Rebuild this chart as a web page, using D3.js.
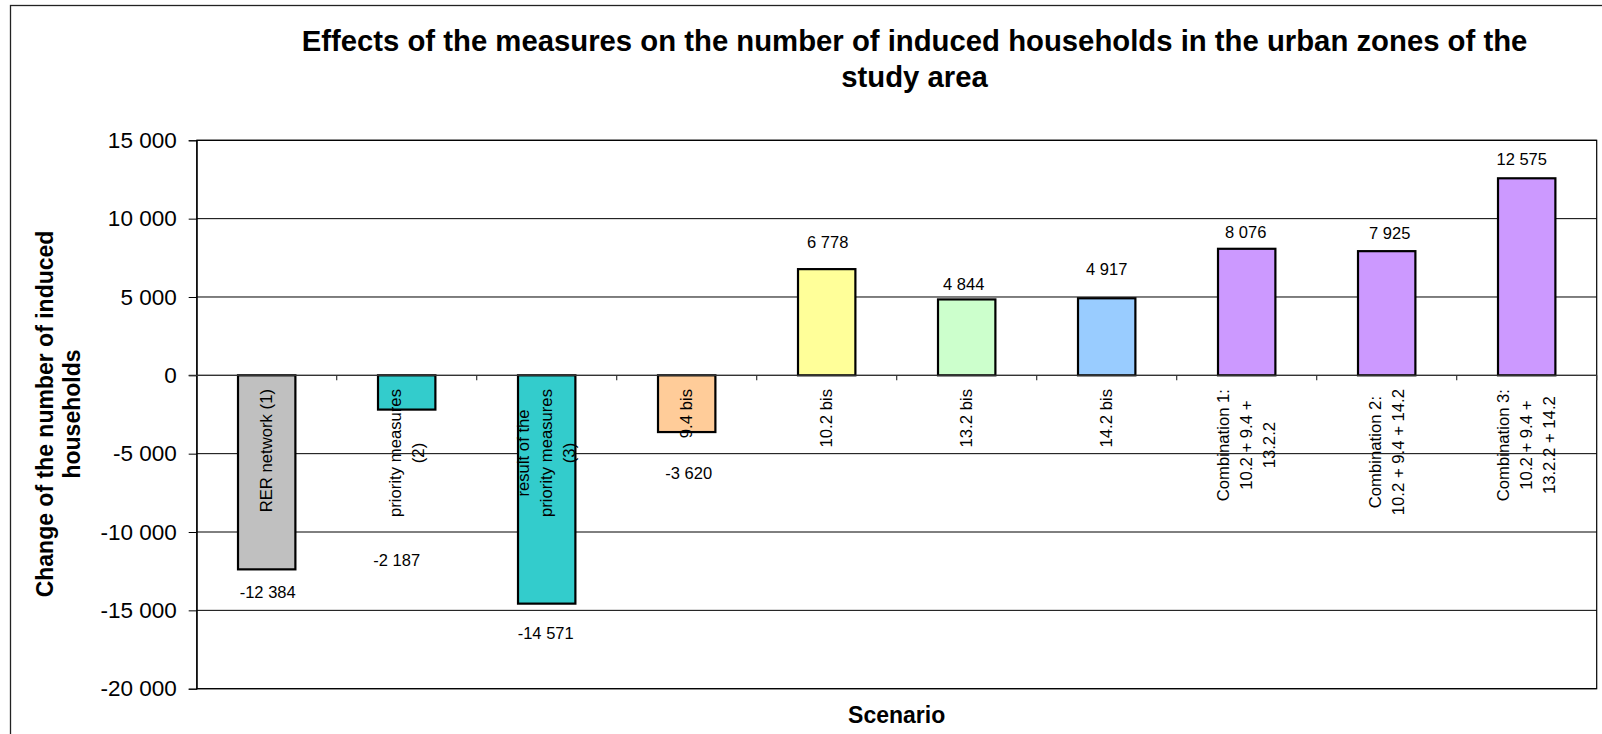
<!DOCTYPE html>
<html>
<head>
<meta charset="utf-8">
<script src="https://cdn.jsdelivr.net/npm/d3@7/dist/d3.min.js"></script>
<style>
  html, body { margin: 0; padding: 0; background: #fff; }
  svg { display: block; font-family: "Liberation Sans", Arial, Helvetica, sans-serif; }
</style>
</head>
<body>
<svg id="chart" width="1602" height="734"></svg>
<script>
// Scenarios (line breaks inside a label are marked with "\n")
const categories = [
  "RER network (1)",
  "priority measures\n(2)",
  "result of the\npriority measures\n(3)",
  "9.4 bis",
  "10.2 bis",
  "13.2 bis",
  "14.2 bis",
  "Combination 1:\n10.2 + 9.4 +\n13.2.2",
  "Combination 2:\n10.2 + 9.4 + 14.2",
  "Combination 3:\n10.2 + 9.4 +\n13.2.2 + 14.2"
];

// Change of the number of induced households per scenario
const values = [-12384, -2187, -14571, -3620, 6778, 4844, 4917, 8076, 7925, 12575];

const barColors = ["#C0C0C0", "#33CCCC", "#33CCCC", "#FFCC99", "#FFFF99",
                   "#CCFFCC", "#99CCFF", "#CC99FF", "#CC99FF", "#CC99FF"];

const yTicks = [-20000, -15000, -10000, -5000, 0, 5000, 10000, 15000];

const titleLines = ["Effects of the measures on the number of induced households in the urban zones of the",
                    "study area"];
const yTitleLines = ["Change of the number of induced", "households"];
const xTitle = "Scenario";

// Layout: hand-placed value labels, offset [dx, dy] from the end of each bar
const labelShift = [[1, 23], [-10, 150], [-1, 29], [2, 41], [1, -27],
                    [-3, -15], [0, -29], [-1, -17], [3, -18], [-5, -19]];

const W = 1602, H = 734;
const plot = { left: 196.7, right: 1596.7, top: 140.3, bottom: 688.7 };

const fmt = d3.formatLocale({ decimal: ",", thousands: " ", grouping: [3],
                              currency: ["", ""], minus: "-" }).format(",d");

const svg = d3.select("#chart");
svg.append("rect").attr("width", W).attr("height", H).attr("fill", "#fff");

// Outer chart frame
svg.append("rect")
  .attr("x", 10.5).attr("y", 5.5).attr("width", W + 20).attr("height", H + 20)
  .attr("fill", "none").attr("stroke", "#222").attr("stroke-width", 1.3);

const x = d3.scaleBand().domain(d3.range(categories.length))
  .range([plot.left, plot.right]).paddingInner(0).paddingOuter(0);
const y = d3.scaleLinear().domain([-20000, 15000]).range([plot.bottom, plot.top]);

const barW = x.bandwidth() / 2.44;

// Horizontal gridlines
svg.append("g").selectAll("line").data(yTicks).join("line")
  .attr("x1", plot.left).attr("x2", plot.right)
  .attr("y1", d => y(d)).attr("y2", d => y(d))
  .attr("stroke", "#000").attr("stroke-width", 1);

// Plot frame
svg.append("rect")
  .attr("x", plot.left).attr("y", plot.top)
  .attr("width", plot.right - plot.left).attr("height", plot.bottom - plot.top)
  .attr("fill", "none").attr("stroke", "#000").attr("stroke-width", 1.2);

// Y axis
const yAxis = d3.axisLeft(y).tickValues(yTicks).tickFormat(fmt).tickSize(8).tickPadding(12);
const gy = svg.append("g").attr("transform", `translate(${plot.left},0)`).call(yAxis);
gy.select(".domain").attr("stroke", "#000");
gy.selectAll(".tick line").attr("stroke", "#000");
gy.selectAll(".tick text")
  .attr("font-size", "22.5px").attr("fill", "#000")
  .attr("font-family", "'Liberation Sans', Arial, sans-serif");

// Bars
svg.append("g").selectAll("rect").data(values).join("rect")
  .attr("x", (d, i) => x(i) + (x.bandwidth() - barW) / 2)
  .attr("width", barW)
  .attr("y", d => y(Math.max(0, d)))
  .attr("height", d => Math.abs(y(d) - y(0)))
  .attr("fill", (d, i) => barColors[i])
  .attr("stroke", "#000").attr("stroke-width", 2.2);

// Category axis along the zero line
const xAxisLine = svg.append("g");
xAxisLine.append("line")
  .attr("x1", plot.left - 8).attr("x2", plot.right)
  .attr("y1", y(0)).attr("y2", y(0))
  .attr("stroke", "#333").attr("stroke-width", 1.2);
xAxisLine.selectAll("line.tk").data(d3.range(1, categories.length + 1)).join("line")
  .attr("class", "tk")
  .attr("x1", i => plot.left + i * x.bandwidth()).attr("x2", i => plot.left + i * x.bandwidth())
  .attr("y1", y(0)).attr("y2", y(0) + 5)
  .attr("stroke", "#333").attr("stroke-width", 1.2);

// Rotated category labels, block top just below the axis
const lineStep = 23, labelTop = 389;
categories.forEach((c, i) => {
  const lines = c.split("\n");
  const g = svg.append("g");
  const texts = lines.map((ln, k) => g.append("text")
    .attr("text-anchor", "middle")
    .attr("dominant-baseline", "central")
    .attr("font-size", "16.7px").attr("fill", "#000")
    .attr("x", 0)
    .attr("y", (k - (lines.length - 1) / 2) * lineStep)
    .text(ln));
  const wMax = d3.max(texts, t => t.node().getComputedTextLength());
  g.attr("transform", `translate(${x(i) + x.bandwidth() / 2},${labelTop + wMax / 2}) rotate(-90)`);
});

// Value labels
svg.append("g").selectAll("text").data(values).join("text")
  .attr("x", (d, i) => x(i) + x.bandwidth() / 2 + labelShift[i][0])
  .attr("y", (d, i) => y(d) + labelShift[i][1])
  .attr("text-anchor", "middle").attr("dominant-baseline", "central")
  .attr("font-size", "16.5px").attr("fill", "#000")
  .text(d => fmt(d));

// Chart title
svg.append("g").selectAll("text").data(titleLines).join("text")
  .attr("x", 914.5).attr("y", (d, i) => 51 + i * 35.5)
  .attr("text-anchor", "middle").attr("font-weight", "bold")
  .attr("font-size", "29.3px").attr("fill", "#000")
  .text(d => d);

// Y axis title
const yt = svg.append("g").attr("transform", "translate(0,414) rotate(-90)");
yt.selectAll("text").data(yTitleLines).join("text")
  .attr("x", 0).attr("y", (d, i) => 53 + i * 27)
  .attr("text-anchor", "middle").attr("font-weight", "bold")
  .attr("font-size", "23px").attr("fill", "#000")
  .text(d => d);

// X axis title
svg.append("text")
  .attr("x", (plot.left + plot.right) / 2).attr("y", 723)
  .attr("text-anchor", "middle").attr("font-weight", "bold")
  .attr("font-size", "23px").attr("fill", "#000")
  .text(xTitle);
</script>
</body>
</html>
